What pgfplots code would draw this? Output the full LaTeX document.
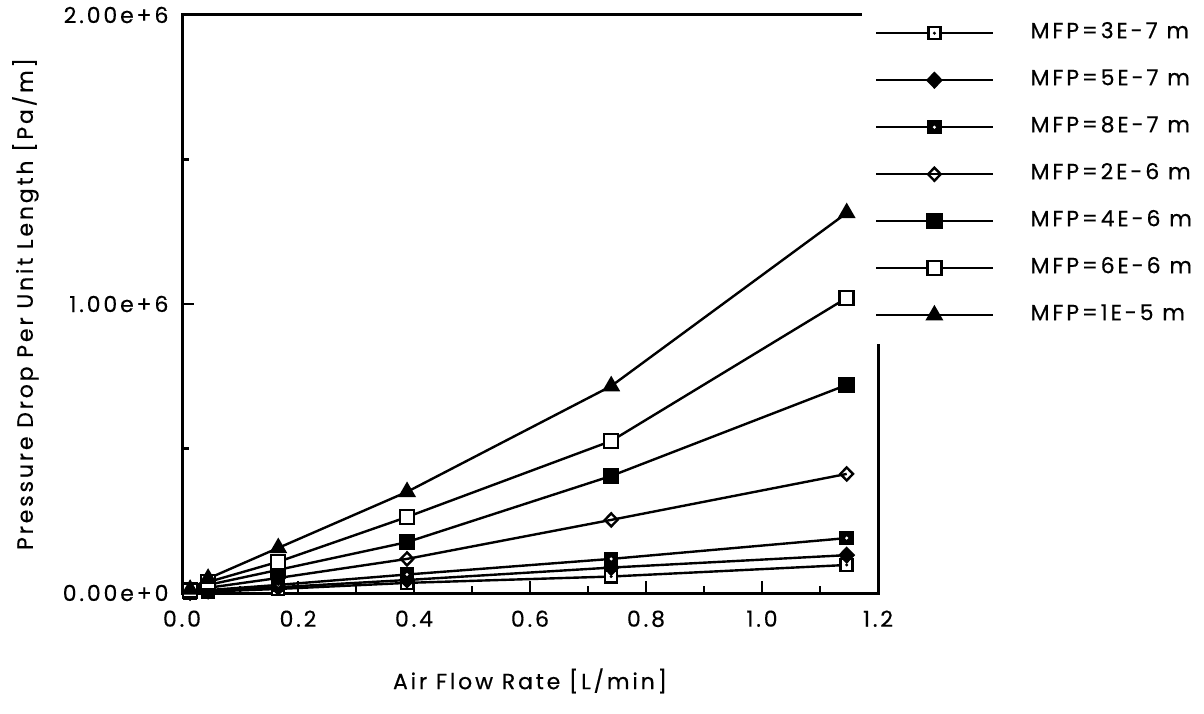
\documentclass[border=0pt]{standalone}
\usepackage{fontspec}
\setmainfont{Poppins}[LetterSpace=13, FakeBold=0.4]
\usepackage{pgfplots}
\pgfplotsset{compat=1.18}

\pgfdeclareplotmark{sqdot}{%
  \pgfpathrectangle{\pgfqpoint{-\pgfplotmarksize}{-\pgfplotmarksize}}{\pgfqpoint{2\pgfplotmarksize}{2\pgfplotmarksize}}%
  \pgfusepathqfillstroke
  \begin{pgfscope}%
  \pgfsetfillcolor{black}%
  \pgfpathcircle{\pgfpointorigin}{0.28\pgfplotmarksize}%
  \pgfusepathqfill
  \end{pgfscope}}
\pgfdeclareplotmark{sqwdot}{%
  \pgfpathrectangle{\pgfqpoint{-\pgfplotmarksize}{-\pgfplotmarksize}}{\pgfqpoint{2\pgfplotmarksize}{2\pgfplotmarksize}}%
  \pgfusepathqfillstroke
  \begin{pgfscope}%
  \pgfsetfillcolor{white}%
  \pgfpathcircle{\pgfpointorigin}{0.28\pgfplotmarksize}%
  \pgfusepathqfill
  \end{pgfscope}}

\begin{document}
\begin{tikzpicture}
\useasboundingbox (0,0) rectangle (1204pt,713pt);
\begin{axis}[
  at={(182pt,120pt)}, anchor=south west,
  width=696pt, height=578pt, scale only axis,
  xmin=0, xmax=1.2, ymin=0, ymax=2e6,
  font=\fontsize{22}{26}\selectfont,
  axis line style={line width=3pt},
  tick pos=left,
  tick align=inside,
  major tick length=12pt, minor tick length=7pt,
  every tick/.style={line width=2.5pt, black},
  xtick={0,0.2,0.4,0.6,0.8,1.0,1.2},
  xticklabels={0.0,0.2,0.4,0.6,0.8,1.0,1.2},
  minor xtick={0.1,0.3,0.5,0.7,0.9,1.1},
  ytick={0,1000000,2000000},
  yticklabels={0.00e+0,1.00e+6,2.00e+6},
  minor ytick={500000,1500000},
  scaled y ticks=false,
  /pgf/number format/assume math mode=true,
  xticklabel style={yshift=-14pt},
  yticklabel style={xshift=-10pt},
  xlabel={Air Flow Rate [L/min]},
  ylabel={Pressure Drop Per Unit Length [Pa/m]},
  x label style={at={(axis description cs:0.5,-0.152)}, anchor=center},
  y label style={at={(axis description cs:-0.225,0.5)}, anchor=center, rotate=0},
  legend cell align=left,
  legend style={at={(0.977,1.019)}, anchor=north west, draw=none, fill=white,
    inner xsep=13pt, inner ysep=19pt, row sep=27pt, column sep=36pt,
    nodes={inner sep=0pt, text height=15pt, text depth=5pt}},
  legend image code/.code={\draw[mark repeat=2,mark phase=2,#1] plot coordinates {(0pt,0pt) (58pt,0pt) (117pt,0pt)};},
  every axis plot/.append style={black, line width=2.4pt, mark size=7pt, mark options={solid, line width=2pt}},
]
% MFP=3E-7 m
\addplot[mark=sqdot, mark size=6pt, mark options={fill=white}] coordinates {
(0.014,1500) (0.045,5000) (0.166,14000) (0.388,35000) (0.740,57000) (1.146,97000)};
\addlegendentry{MFP=3E-7 m}
% MFP=5E-7 m
\addplot[mark=diamond*, mark options={fill=black, xscale=1.3}] coordinates {
(0.014,2000) (0.045,7000) (0.166,20000) (0.388,45000) (0.740,88000) (1.146,131000)};
\addlegendentry{MFP=5E-7 m}
% MFP=8E-7 m
\addplot[mark=sqwdot, mark size=6pt, mark options={fill=black}] coordinates {
(0.014,3000) (0.045,10000) (0.166,28000) (0.388,64000) (0.740,118000) (1.146,190000)};
\addlegendentry{MFP=8E-7 m}
% MFP=2E-6 m
\addplot[mark=diamond, mark size=6.5pt, mark options={fill=white, xscale=1.3}] coordinates {
(0.014,5000) (0.045,18000) (0.166,52000) (0.388,118000) (0.740,253000) (1.146,412000)};
\addlegendentry{MFP=2E-6 m}
% MFP=4E-6 m
\addplot[mark=square*, mark options={fill=black}] coordinates {
(0.014,7000) (0.045,28000) (0.166,80000) (0.388,176000) (0.740,405000) (1.146,720000)};
\addlegendentry{MFP=4E-6 m}
% MFP=6E-6 m
\addplot[mark=square*, mark options={fill=white}] coordinates {
(0.014,9000) (0.045,38000) (0.166,108000) (0.388,263000) (0.740,526000) (1.146,1021000)};
\addlegendentry{MFP=6E-6 m}
% MFP=1E-5 m
\addplot[mark=triangle*, mark size=8pt, mark options={fill=black}] coordinates {
(0.014,12000) (0.045,50000) (0.166,156000) (0.388,350000) (0.740,716000) (1.146,1315000)};
\addlegendentry{MFP=1E-5 m}
\end{axis}
\end{tikzpicture}
\end{document}
